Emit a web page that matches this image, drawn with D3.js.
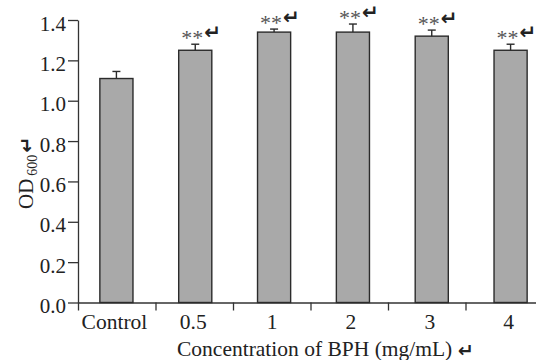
<!DOCTYPE html>
<html>
<head>
<meta charset="utf-8">
<script src="https://cdn.jsdelivr.net/npm/d3@7"></script>
<style>
  body { margin: 0; background: #fff; }
  svg text { font-family: "Liberation Serif", "Times New Roman", serif; fill: #222; }
</style>
</head>
<body>
<div id="chart"></div>
<script>
// data
var categories = ["Control", "0.5", "1", "2", "3", "4"];
var values = [1.11, 1.25, 1.34, 1.34, 1.32, 1.25];
var errors = [0.035, 0.03, 0.015, 0.04, 0.03, 0.03];
var marks = ["", "**", "**", "**", "**", "**"];
var yTicks = [0, 0.2, 0.4, 0.6, 0.8, 1.0, 1.2, 1.4];

// rows for binding
var rows = categories.map(function(c, i) {
  return { cat: c, value: values[i], err: errors[i], mark: marks[i] };
});

var svgWidth = 536;
var svgHeight = 360;

var svg = d3.select("#chart")
  .append("svg")
  .attr("width", svgWidth)
  .attr("height", svgHeight);

// scales
var x = d3.scaleBand()
  .domain(categories)
  .range([77, 550])
  .paddingInner(0.58)
  .paddingOuter(0.29);

// the tick marks in the picture sit on a slightly tighter grid than the bars
var xTick = d3.scaleLinear()
  .domain([0, categories.length])
  .range([78, 543]);

var y = d3.scaleLinear()
  .domain([0, 1.4])
  .range([302.5, 20]);

var axisColor = "#333";
var cx = d => x(d.cat) + x.bandwidth() / 2;

// x axis (line + ticks between groups)
var xAxis = svg.append("g")
  .attr("transform", "translate(0, 302.5)")
  .call(d3.axisBottom(xTick)
    .tickValues(d3.range(categories.length))
    .tickFormat("")
    .tickSize(8)
    .tickSizeOuter(0));
xAxis.select(".domain").attr("stroke", axisColor).attr("stroke-width", 1.3);
xAxis.selectAll(".tick line").attr("stroke", axisColor).attr("stroke-width", 1.3);

// category labels under the bars
svg.selectAll(".xlabel")
  .data(rows)
  .enter()
  .append("text")
  .attr("class", "xlabel")
  .attr("x", d => cx(d) - 2)
  .attr("y", 329)
  .attr("text-anchor", "middle")
  .attr("font-size", 21.5)
  .text(d => d.cat);

// y axis
var yAxis = svg.append("g")
  .attr("transform", "translate(78, 0)")
  .call(d3.axisLeft(y)
    .tickValues(yTicks)
    .tickFormat(d3.format(".1f"))
    .tickSize(10)
    .tickSizeOuter(0)
    .tickPadding(2));
yAxis.select(".domain").attr("stroke", axisColor).attr("stroke-width", 1.3);
yAxis.selectAll(".tick line").attr("stroke", axisColor).attr("stroke-width", 1.3);
yAxis.selectAll(".tick text")
  .attr("font-size", 21)
  .attr("font-family", "Liberation Serif, serif")
  .attr("fill", "#222")
  .attr("dy", "0.48em");

// bars
svg.selectAll(".bar")
  .data(rows)
  .enter()
  .append("rect")
  .attr("class", "bar")
  .attr("x", d => x(d.cat))
  .attr("y", d => y(d.value))
  .attr("width", x.bandwidth())
  .attr("height", d => y(0) - y(d.value))
  .attr("fill", "#a9a9a9")
  .attr("stroke", "#2b2b2b")
  .attr("stroke-width", 1.4);

// error bars
var err = svg.selectAll(".err")
  .data(rows)
  .enter()
  .append("g")
  .attr("class", "err")
  .attr("stroke", "#2b2b2b")
  .attr("stroke-width", 1.4);

err.append("line")
  .attr("x1", cx)
  .attr("x2", cx)
  .attr("y1", d => y(d.value))
  .attr("y2", d => y(d.value + d.err));

err.append("line")
  .attr("x1", d => cx(d) - 4)
  .attr("x2", d => cx(d) + 4)
  .attr("y1", d => y(d.value + d.err))
  .attr("y2", d => y(d.value + d.err));

// significance marks with the stray paragraph arrows
var sig = svg.selectAll(".sig")
  .data(rows.filter(d => d.mark !== ""))
  .enter()
  .append("text")
  .attr("class", "sig")
  .attr("x", d => cx(d) - 14)
  .attr("y", d => y(d.value + d.err) + 1)
  .attr("font-size", 22);

sig.append("tspan")
  .attr("fill", "#555")
  .text(d => d.mark);

sig.append("tspan")
  .attr("font-family", "DejaVu Sans, sans-serif")
  .attr("font-weight", "bold")
  .attr("font-size", 20)
  .attr("dy", -6)
  .attr("dx", 1)
  .text("\u21B5");

// axis titles
var xt = svg.append("text")
  .attr("x", 177)
  .attr("y", 356)
  .attr("font-size", 21.5)
  .text("Concentration of BPH (mg/mL) ");
xt.append("tspan")
  .attr("font-family", "DejaVu Sans, sans-serif")
  .attr("font-weight", "bold")
  .attr("font-size", 19)
  .attr("dy", 1)
  .text("\u21B5");

var yt = svg.append("text")
  .attr("transform", "translate(33, 209) rotate(-90)")
  .attr("font-size", 21);
yt.append("tspan").text("OD");
yt.append("tspan").attr("font-size", 14).attr("dy", 4).attr("dx", 3).text("600");
yt.append("tspan")
  .attr("font-family", "DejaVu Sans, sans-serif")
  .attr("font-weight", "bold")
  .attr("font-size", 19)
  .attr("dy", -4)
  .attr("dx", 2)
  .text("\u21B5");
</script>
</body>
</html>
